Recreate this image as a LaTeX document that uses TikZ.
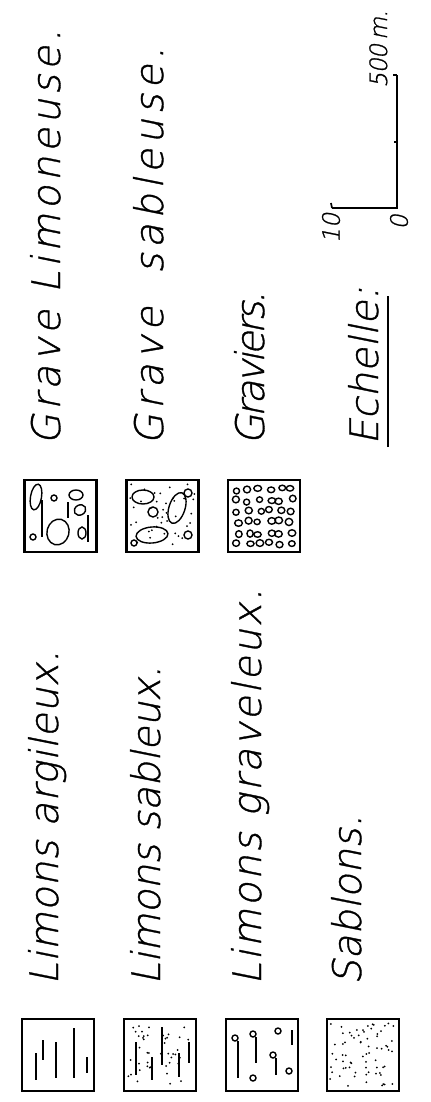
\documentclass[tikz,border=0pt]{standalone}
\usepackage{fontspec}
\setmainfont{DejaVu Sans}
\newfontfamily\hand{DejaVu Sans ExtraLight}[FakeSlant=0.2, FakeBold=0.9]
\newcommand\sanddots[5]{% xmin ymin w h n
  \foreach \k in {1,...,#5}{%
    \pgfmathsetmacro\dx{#1+#3*rnd}%
    \pgfmathsetmacro\dy{#2+#4*rnd}%
    \fill (\dx,\dy) circle [radius=1];}}
\newcommand\ls[1]{\addfontfeature{LetterSpace=#1}}
\tikzset{
  lab/.style={rotate=90, anchor=base west, inner sep=0pt,
    font=\hand\fontsize{28}{28}\selectfont},
  small/.style={rotate=90, inner sep=0pt,
    font=\hand\fontsize{17}{17}\selectfont},
  box/.style={draw, line width=2pt, minimum size=1.8cm, inner sep=0pt},
  hatch/.style={line width=1.2pt},
  grain/.style={line width=1pt}
}
\begin{document}
\begin{tikzpicture}[x=0.025cm, y=-0.025cm]
\useasboundingbox (0,0) rectangle (430,1102);
\pgfmathsetseed{11}
% ---------- lower group ----------
\node[box] (b1) at (58,1055) {};
\node[box] (b2) at (160,1055) {};
\node[box] (b3) at (262,1055) {};
\node[box] (b4) at (363,1055) {};
\node[lab] (t1) at (58,985) {\ls{2}Limons argileux.};
\node[lab] (t2) at (160,985) {\ls{0}Limons sableux.};
\node[lab] (t3) at (261,985) {\ls{6}Limons graveleux.};
\node[lab] (t4) at (361,985) {\ls{1}Sablons.};
% box 1 pattern
\draw[hatch] (36,1053)--(36,1080) (43,1040)--(43,1060) (56,1042)--(56,1078)
  (74,1028)--(74,1078) (87,1057)--(87,1073);
% box 2 pattern
\draw[hatch] (136,1042)--(136,1075) (152,1057)--(152,1080) (162,1027)--(162,1065)
  (179,1053)--(179,1077) (189,1042)--(189,1063);
\sanddots{128}{1023}{64}{64}{45}
% box 3 pattern
\draw[grain] (235,1038) circle [radius=3] (253,1034) circle [radius=3]
  (273,1055) circle [radius=3] (278,1031) circle [radius=3]
  (253,1078) circle [radius=3] (289,1071) circle [radius=3];
\draw[hatch] (238,1041)--(238,1078) (256,1037)--(256,1063) (276,1058)--(276,1075);
\draw[line width=1.6pt] (292,1030)--(292,1045);
% box 4 pattern
\sanddots{330}{1023}{64}{64}{70}
% ---------- upper group ----------
\node[box] (g1) at (60.5,516) {};
\node[box] (g2) at (162.5,516) {};
\node[box] (g3) at (264,516) {};
\node[lab] (u1) at (60,445) {\ls{10.5}Grave Limoneuse.};
\node[lab] (u2) at (163,445) {\ls{12.5}Grave\hspace{0.4em} sableuse.};
\node[lab] (u3) at (264,445) {\ls{-8}Graviers.};
% box g1 pattern
\draw[grain, rotate around={-10:(36,497)}] (36,497) ellipse [x radius=5.5, y radius=13];
\draw[hatch] (42,500)--(42,537) (68,502)--(68,518) (88,515)--(88,542);
\draw[grain] (54,498) circle [radius=3] (76,495) ellipse [x radius=7, y radius=5]
  (33,537) circle [radius=3] (82,533) ellipse [x radius=4, y radius=6];
\draw[grain, rotate around={30:(80,510)}] (80,510) ellipse [x radius=6, y radius=5];
\draw[grain, rotate around={-15:(58,532)}] (58,532) ellipse [x radius=11, y radius=13];
% box g2 pattern
\draw[grain] (143,497) ellipse [x radius=11, y radius=7]
  (153,512) circle [radius=5] (188,493) circle [radius=4]
  (188,535) circle [radius=4] (134,543) circle [radius=3];
\draw[grain, rotate around={-18:(177,508)}] (177,508) ellipse [x radius=8, y radius=16];
\draw[grain, rotate around={5:(152,535)}] (152,535) ellipse [x radius=16, y radius=8];
\sanddots{130}{484}{65}{65}{40}
% box g3 pattern
\foreach \i in {0,...,5}{\foreach \j in {0,...,5}{%
  \pgfmathsetmacro\cx{238+10.6*\i+2.2*rand}%
  \pgfmathsetmacro\cy{490+10.6*\j+2.2*rand}%
  \pgfmathsetmacro\rx{3.0+0.9*rnd}%
  \pgfmathsetmacro\ry{2.7+0.9*rnd}%
  \draw[grain] (\cx,\cy) ellipse [x radius=\rx, y radius=\ry];}}
% ---------- scale ----------
\node[lab] (ech) at (378,445) {\ls{1}Echelle:};
\draw[line width=1.2pt] (388,447) -- (388,296);
\coordinate (s0) at (397,208);
\coordinate (s500) at (397,75);
\coordinate (s10) at (332,208);
\draw[line width=1.4pt] (s10) -- (s0) -- (s500);
\draw[line width=1.2pt] (s10) -- ++(-1,-5);
\draw[line width=1.2pt] (s500) -- ++(-4,0);
\draw[line width=1.2pt] (397,142) -- ++(-3,0);
\node[small] (l10) at (331,228) {10};
\node[small] (l0) at (399,222) {0};
\node[small, anchor=base west] (l500) at (387,88) {\ls{-4}500\,m.};
\end{tikzpicture}
\end{document}
